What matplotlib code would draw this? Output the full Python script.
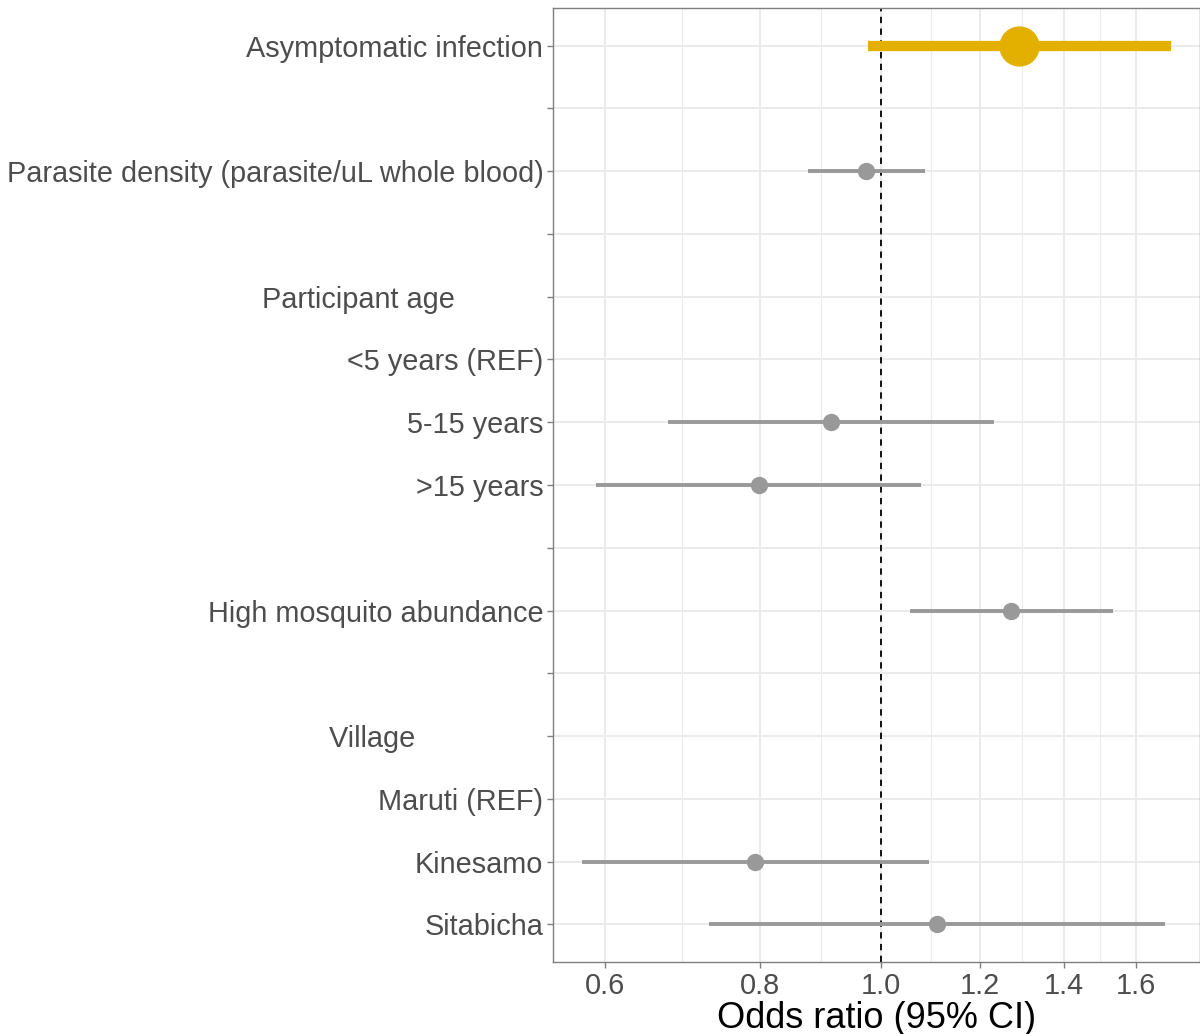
"""Forest plot of odds ratios (log scale)."""
import numpy as np
import matplotlib
matplotlib.use("Agg")
import matplotlib.pyplot as plt
import matplotlib.ticker as ticker

plt.rcParams["font.family"] = ["Liberation Sans", "DejaVu Sans"]

# ── Data ──────────────────────────────────────────────────────────────────────
LABELS = [
    "Asymptomatic infection",
    "",
    "Parasite density (parasite/uL whole blood)",
    "",
    "Participant age" + " " * 11,
    "<5 years (REF)",
    "5-15 years",
    ">15 years",
    "",
    "High mosquito abundance",
    "",
    "Village" + " " * 16,
    "Maruti (REF)",
    "Kinesamo",
    "Sitabicha",
]
OR_EST = [1.289, np.nan, 0.973, np.nan, np.nan, np.nan, 0.912, 0.798, np.nan,
          1.270, np.nan, np.nan, np.nan, 0.792, 1.108]
CI_LOW = [0.976, np.nan, 0.874, np.nan, np.nan, np.nan, 0.674, 0.591, np.nan,
          1.055, np.nan, np.nan, np.nan, 0.576, 0.727]
CI_HIGH = [1.706, np.nan, 1.084, np.nan, np.nan, np.nan, 1.232, 1.077, np.nan,
           1.533, np.nan, np.nan, np.nan, 1.092, 1.689]
HIGHLIGHT = "Asymptomatic infection"

MAJOR_TICKS = [0.6, 0.8, 1.0, 1.2, 1.4, 1.6]

GREY = "#999999"
GOLD = "#E3B000"
TEXT = "#4D4D4D"

fig = plt.figure(figsize=(12, 10.34), dpi=100)
ax = fig.add_axes([553 / 1200, 1 - 962 / 1034, 1 - 553 / 1200, (962 - 8) / 1034])

ypos = np.arange(len(LABELS))
for y, lab, est, lo, hi in zip(ypos, LABELS, OR_EST, CI_LOW, CI_HIGH):
    if np.isnan(est):
        continue
    if lab == HIGHLIGHT:
        ax.plot([lo, hi], [y, y], color=GOLD, lw=7.4, solid_capstyle="butt", zorder=3)
        ax.plot(est, y, "o", color=GOLD, ms=29, mec="none", zorder=4)
    else:
        ax.plot([lo, hi], [y, y], color=GREY, lw=2.8, solid_capstyle="butt", zorder=3)
        ax.plot(est, y, "o", color=GREY, ms=12.5, mec="none", zorder=4)

ax.axvline(1.0, color="black", ls=(0, (3.5, 3)), lw=1.3, zorder=2)

ax.set_xscale("log")
lx = np.log(np.array([v for v in CI_LOW if not np.isnan(v)]))
hx = np.log(np.array([v for v in CI_HIGH if not np.isnan(v)]))
span = hx.max() - lx.min()
ax.set_xlim(np.exp(lx.min() - 0.05 * span), np.exp(hx.max() + 0.05 * span))
ax.set_ylim(len(LABELS) - 1 + 0.6, -0.6)

ax.xaxis.set_major_locator(ticker.FixedLocator(MAJOR_TICKS))
ax.xaxis.set_major_formatter(ticker.FixedFormatter([f"{t:.1f}" for t in MAJOR_TICKS]))
minor = [np.sqrt(a * b) for a, b in zip(MAJOR_TICKS[:-1], MAJOR_TICKS[1:])]
ax.xaxis.set_minor_locator(ticker.FixedLocator(minor))
ax.xaxis.set_minor_formatter(ticker.NullFormatter())

ax.set_yticks(ypos)
ax.set_yticklabels(LABELS)

ax.grid(True, which="major", color="#EBEBEB", lw=1.4, zorder=0)
ax.grid(True, which="minor", axis="x", color="#EBEBEB", lw=0.8, zorder=0)
ax.set_axisbelow(True)

ax.tick_params(axis="both", which="major", colors="#7F7F7F", length=4, width=1,
               labelsize=20.8, labelcolor=TEXT, pad=3)
ax.tick_params(axis="x", which="minor", length=0)
for sp in ax.spines.values():
    sp.set_color("#7F7F7F")
    sp.set_linewidth(1)

ax.set_xlabel("Odds ratio (95% CI)", fontsize=26, color="black", labelpad=1)

fig.savefig("out.png", dpi=100)
plt.close(fig)
